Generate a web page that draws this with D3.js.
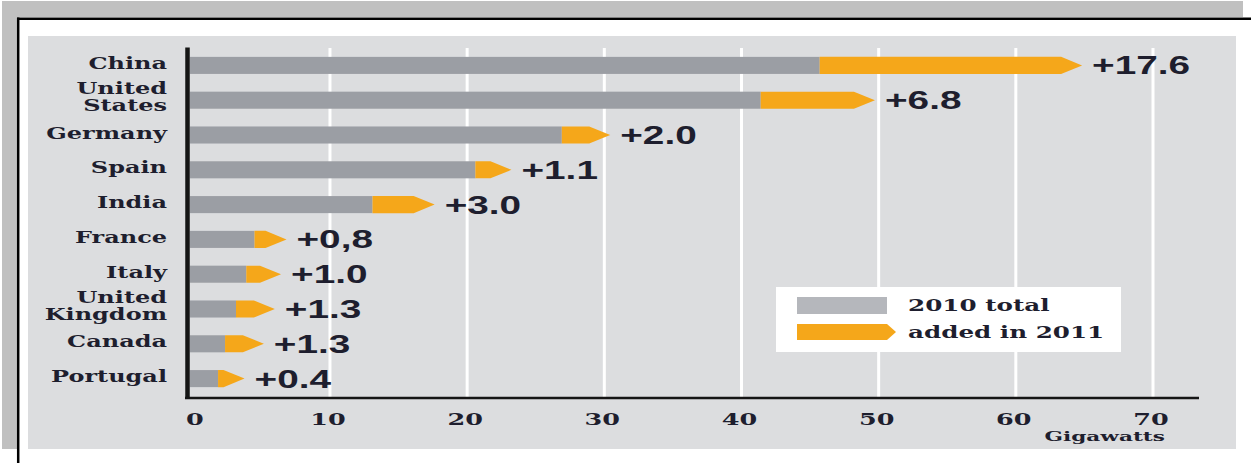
<!DOCTYPE html>
<html><head><meta charset="utf-8">
<script src="https://cdn.jsdelivr.net/npm/d3@7"></script>
<style>html,body{margin:0;padding:0;background:#fff;}svg{display:block;}</style>
</head><body>
<script>
const categories = ["China", "United States", "Germany", "Spain", "India", "France", "Italy", "United Kingdom", "Canada", "Portugal"];
const base2010 = [45.7, 41.4, 26.9, 20.6, 13.1, 4.5, 3.9, 3.15, 2.35, 1.84];
const added2011 = [17.6, 6.8, 2.0, 1.1, 3.0, 0.8, 1.0, 1.3, 1.3, 0.4];
const addedLabels = ["+17.6", "+6.8", "+2.0", "+1.1", "+3.0", "+0,8", "+1.0", "+1.3", "+1.3", "+0.4"];
const xTicks = [0, 10, 20, 30, 40, 50, 60, 70];
const legendLabels = ["2010 total", "added in 2011"];
const unitLabel = "Gigawatts";

const W = 1251, H = 463;
const GRAY = "#9b9ea4", ORANGE = "#f5a71a", PANEL = "#dcdddf", TXT = "#1e1e2e";
const SERIF = "'DejaVu Serif', serif", SANS = "'Liberation Sans', Arial, sans-serif";

const svg = d3.select("body").append("svg").attr("width", W).attr("height", H);

// outer frame
svg.append("rect").attr("x", 2).attr("y", 1).attr("width", 1241).attr("height", 16).attr("fill", "#c0c0c0");
svg.append("rect").attr("x", 2).attr("y", 1).attr("width", 15).attr("height", 448).attr("fill", "#c0c0c0");
svg.append("line").attr("x1", 17).attr("x2", W).attr("y1", 18.7).attr("y2", 18.7).attr("stroke", "#000").attr("stroke-width", 2.5);
svg.append("line").attr("x1", 18.2).attr("x2", 18.2).attr("y1", 17.5).attr("y2", H).attr("stroke", "#000").attr("stroke-width", 2.5);
svg.append("rect").attr("x", 28).attr("y", 36).attr("width", 1208).attr("height", 413).attr("fill", PANEL);

const x = d3.scaleLinear().domain([0, 70]).range([192.8, 1153]);
const y = d3.scaleBand().domain(categories).range([48, 396]).paddingInner(0.51).paddingOuter(0.255);
const bh = y.bandwidth();
const cy = c => y(c) + bh / 2;

// grid lines
svg.append("g").selectAll("line").data(xTicks.filter(d => d > 0)).join("line")
  .attr("x1", d => x(d)).attr("x2", d => x(d)).attr("y1", 48).attr("y2", 397)
  .attr("stroke", "#fff").attr("stroke-width", 3);

// gray bars
svg.append("g").selectAll("rect").data(categories).join("rect")
  .attr("x", x(0) - 3).attr("y", c => y(c))
  .attr("width", (c, i) => x(base2010[i]) - x(0) + 3).attr("height", bh).attr("fill", GRAY);

// orange arrows
const tip = 21;
svg.append("g").selectAll("path").data(categories).join("path")
  .attr("d", (c, i) => {
    const x0 = x(base2010[i]), x1 = x(base2010[i] + added2011[i]);
    const t = y(c), b = t + bh;
    return `M${x0},${t}L${x1},${t}L${x1 + tip},${t + bh / 2}L${x1},${b}L${x0},${b}Z`;
  }).attr("fill", ORANGE);

// value labels
svg.append("g").selectAll("text").data(categories).join("text")
  .attr("transform", (c, i) => `translate(${x(base2010[i] + added2011[i]) + tip + 10},${y(c) + bh + 0.5}) scale(1.55,1)`)
  .attr("font-family", SANS).attr("font-weight", "bold").attr("font-size", 25).attr("fill", TXT)
  .text((c, i) => addedLabels[i]);

// category labels
const catG = svg.append("g");
categories.forEach(c => {
  const words = c.split(" ");
  const lines = words.length > 1 ? [words.slice(0, -1).join(" "), words[words.length - 1]] : [c];
  const offs = lines.length > 1 ? [-6, 11] : [3.5];
  lines.forEach((ln, j) => {
    catG.append("text")
      .attr("transform", `translate(167,${cy(c) + offs[j]}) scale(1.5,1)`)
      .attr("text-anchor", "end").attr("font-family", SERIF).attr("font-weight", "bold")
      .attr("font-size", 16).attr("fill", TXT).text(ln);
  });
});

// axes lines
svg.append("line").attr("x1", 187.5).attr("x2", 187.5).attr("y1", 47.5).attr("y2", 399).attr("stroke", "#151515").attr("stroke-width", 4.5);
svg.append("line").attr("x1", 185).attr("x2", 1199).attr("y1", 398).attr("y2", 398).attr("stroke", "#151515").attr("stroke-width", 2.6);

// tick labels
svg.append("g").selectAll("text").data(xTicks).join("text")
  .attr("transform", d => `translate(${x(d) + (d === 0 ? 2 : -2)},425) scale(1.5,1)`)
  .attr("text-anchor", "middle").attr("font-family", SERIF).attr("font-weight", "bold")
  .attr("font-size", 17).attr("fill", TXT).text(d => d);

svg.append("text").attr("transform", "translate(1165,441) scale(1.6,1)")
  .attr("text-anchor", "end").attr("font-family", SERIF).attr("font-weight", "bold")
  .attr("font-size", 13.5).attr("fill", TXT).text(unitLabel);

// legend
const lg = svg.append("g");
lg.append("rect").attr("x", 776).attr("y", 287).attr("width", 345).attr("height", 65).attr("fill", "#fff");
lg.append("rect").attr("x", 797).attr("y", 297).attr("width", 90).attr("height", 17).attr("fill", "#b5b7bc");
lg.append("path").attr("d", "M797,324L887,324L896,332L887,340L797,340Z").attr("fill", ORANGE);
legendLabels.forEach((t, i) => {
  lg.append("text").attr("transform", `translate(908,${311 + i * 27}) scale(1.45,1)`)
    .attr("font-family", SERIF).attr("font-size", 17).attr("font-weight", "bold").attr("fill", TXT).text(t);
});
</script>
</body></html>
